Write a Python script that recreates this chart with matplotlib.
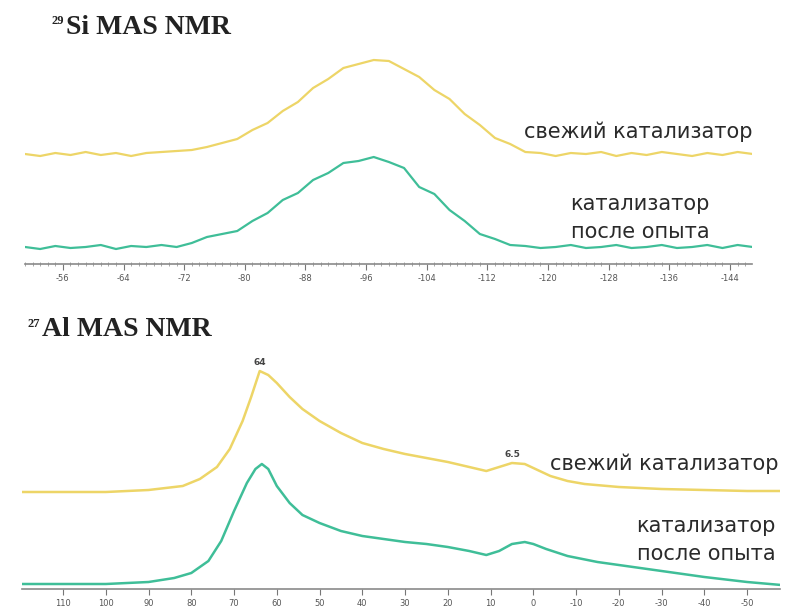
import matplotlib
matplotlib.use("Agg")
import matplotlib.pyplot as plt
from matplotlib.ticker import FixedLocator, MultipleLocator

# ---------------- data ----------------
si_ticks = [-56, -64, -72, -80, -88, -96, -104, -112, -120, -128, -136, -144]
si_ppm = [-51, -53, -55, -57, -59, -61, -63, -65, -67, -69, -71, -73, -75, -77, -79,
          -81, -83, -85, -87, -89, -91, -93, -95, -97, -99, -101, -103, -105, -107,
          -109, -111, -113, -115, -117, -119, -121, -123, -125, -127, -129, -131,
          -133, -135, -137, -139, -141, -143, -145, -147]
si_fresh = [110, 108, 111, 109, 112, 109, 111, 108, 111, 112, 113, 114, 117, 121, 125,
            134, 141, 153, 162, 176, 185, 196, 200, 204, 203, 195, 187, 174, 165,
            150, 139, 126, 120, 112, 111, 108, 111, 110, 112, 108, 111,
            109, 112, 110, 108, 111, 109, 112, 110]
si_used = [17, 15, 18, 16, 17, 19, 15, 18, 17, 19, 17, 21, 27, 30, 33,
           43, 51, 64, 71, 84, 91, 101, 103, 107, 102, 96, 77, 70, 54,
           43, 30, 25, 19, 18, 16, 17, 19, 16, 17, 19, 16,
           17, 19, 16, 17, 19, 16, 19, 17]

al_ticks = [110, 100, 90, 80, 70, 60, 50, 40, 30, 20, 10, 0, -10, -20, -30, -40, -50]
al_ppm_fresh = [120, 110, 100, 90, 82, 78, 74, 71, 68, 66, 64, 62, 60, 57, 54, 50, 45,
                40, 35, 30, 25, 20, 15, 11, 8, 5, 2, -1, -4, -8, -12, -20, -30, -40,
                -50, -58]
al_fresh = [97, 97, 97, 99, 103, 110, 122, 140, 168, 192, 218, 214, 206, 192, 180,
            168, 156, 146, 140, 135, 131, 127, 122, 118, 122, 126, 125, 119, 113,
            108, 105, 102, 100, 99, 98, 98]
al_ppm_used = [120, 100, 90, 84, 80, 76, 73, 70, 67, 65, 63.5, 62, 60, 57, 54, 50, 45,
               40, 35, 30, 25, 20, 15, 11, 8, 5, 2, 0, -3, -8, -15, -20, -30, -40,
               -50, -58]
al_used = [5, 5, 7, 11, 16, 28, 48, 78, 106, 120, 125, 120, 103, 86, 74, 66, 58,
           53, 50, 47, 45, 42, 38, 34, 38, 45, 47, 45, 40, 33, 27, 24, 18, 12,
           7, 4]

label_fresh = "свежий катализатор"
label_used = "катализатор\nпосле опыта"

# ---------------- figure ----------------
W, H = 791, 609
fig = plt.figure(figsize=(W / 100, H / 100), dpi=100)
fig.patch.set_facecolor("white")

YEL = "#EDD567"
GRN = "#3FBE98"
TXT = "#2a2a2a"


def rect(x0, x1, ytop, ybot):
    return [x0 / W, 1 - ybot / H, (x1 - x0) / W, (ybot - ytop) / H]


def ftext(x, y, s, **kw):
    fig.text(x / W, 1 - y / H, s, **kw)


def style_axis(ax, ticks, minor):
    for s in ("top", "left", "right"):
        ax.spines[s].set_visible(False)
    ax.spines["bottom"].set_color("#8a8a8a")
    ax.spines["bottom"].set_linewidth(1.2)
    ax.set_yticks([])
    ax.xaxis.set_major_locator(FixedLocator(ticks))
    ax.xaxis.set_minor_locator(MultipleLocator(minor))
    ax.set_xticklabels([str(t) for t in ticks])
    ax.tick_params(axis="x", which="major", direction="out", length=4, width=0.8,
                   color="#777777", labelsize=6, labelcolor="#555555", pad=3)
    ax.tick_params(axis="x", which="minor", direction="inout", length=3, width=0.6,
                   color="#999999")
    ax.patch.set_alpha(0)


# ---- Si panel ----
ax1 = fig.add_axes(rect(25, 752, 40, 264))
ax1.plot(si_ppm, si_fresh, color=YEL, lw=1.6)
ax1.plot(si_ppm, si_used, color=GRN, lw=1.6)
ax1.set_xlim(-51, -146.9)
ax1.set_ylim(0, 224)
style_axis(ax1, si_ticks, 1)

# ---- Al panel ----
ax2 = fig.add_axes(rect(22, 780, 340, 589))
ax2.plot(al_ppm_fresh, al_fresh, color=YEL, lw=1.8)
ax2.plot(al_ppm_used, al_used, color=GRN, lw=1.8)
ax2.set_xlim(119.6, -57.7)
ax2.set_ylim(0, 249)
style_axis(ax2, al_ticks, 10)
ax2.text(64, max(al_fresh) + 4, "64", ha="center", va="bottom", fontsize=6.5,
         fontweight="bold", color="#444444")
ax2.text(5, max(al_fresh[24:28]) + 4, "6.5", ha="center", va="bottom", fontsize=6.5,
         fontweight="bold", color="#444444")

# ---- titles ----
ftext(52, 21, "29", fontsize=9, fontweight="bold", family="Liberation Serif",
      color="#222222", va="center", ha="left")
ftext(66, 27, "Si MAS NMR", fontsize=20, fontweight="bold",
      family="Liberation Serif", color="#222222", va="center", ha="left")
ftext(28, 324, "27", fontsize=9, fontweight="bold", family="Liberation Serif",
      color="#222222", va="center", ha="left")
ftext(42, 330, "Al MAS NMR", fontsize=20, fontweight="bold",
      family="Liberation Serif", color="#222222", va="center", ha="left")

# ---- curve labels ----
ftext(752, 132, label_fresh, fontsize=15, color=TXT, ha="right", va="center")
ftext(640, 218, label_used, fontsize=15, color=TXT, ha="center", va="center",
      linespacing=1.5)
ftext(778, 464, label_fresh, fontsize=15, color=TXT, ha="right", va="center")
ftext(706, 540, label_used, fontsize=15, color=TXT, ha="center", va="center",
      linespacing=1.5)

fig.savefig("out.png", dpi=100, facecolor="white")
